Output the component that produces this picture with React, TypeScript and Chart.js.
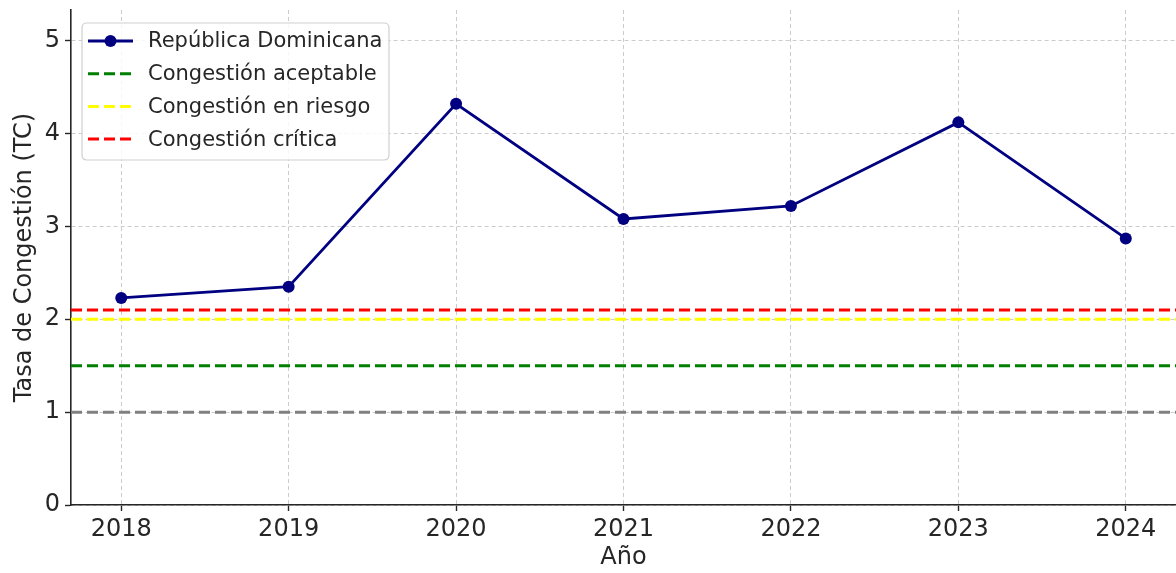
import React, { useEffect, useRef } from "react";
import { Chart, registerables } from "chart.js";

Chart.register(...registerables);

const years = ["2018", "2019", "2020", "2021", "2022", "2023", "2024"];
const tcValues = [2.23, 2.35, 4.32, 3.08, 3.22, 4.12, 2.87];
const seriesLabel = "República Dominicana";
const thresholdLabels = ["Congestión aceptable", "Congestión en riesgo", "Congestión crítica"];
const thresholdValues = [1.5, 2.0, 2.1];
const thresholdColors = ["#008000", "#ffff00", "#ff0000"];
const baselineValue = 1.0;
const baselineColor = "#808080";
const yMin = 0;
const yMax = 5.33;
const xPad = 0.3;

const FONT = "'DejaVu Sans', sans-serif";
const TEXT = "#262626";

const legendPlugin = {
  id: "boxLegend",
  afterDraw(chart: any) {
    const ctx = chart.ctx;
    const ca = chart.chartArea;
    const x0 = ca.left + 11;
    const y0 = ca.top + 13;
    const w = 307;
    const h = 137;
    ctx.save();
    ctx.beginPath();
    const r = 5;
    ctx.moveTo(x0 + r, y0);
    ctx.lineTo(x0 + w - r, y0);
    ctx.quadraticCurveTo(x0 + w, y0, x0 + w, y0 + r);
    ctx.lineTo(x0 + w, y0 + h - r);
    ctx.quadraticCurveTo(x0 + w, y0 + h, x0 + w - r, y0 + h);
    ctx.lineTo(x0 + r, y0 + h);
    ctx.quadraticCurveTo(x0, y0 + h, x0, y0 + h - r);
    ctx.lineTo(x0, y0 + r);
    ctx.quadraticCurveTo(x0, y0, x0 + r, y0);
    ctx.closePath();
    ctx.fillStyle = "rgba(255,255,255,0.85)";
    ctx.fill();
    ctx.strokeStyle = "#d0d0d0";
    ctx.lineWidth = 1.2;
    ctx.stroke();

    const items = chart.data.datasets.filter((d: any) => d.label);
    items.forEach((d: any, i: number) => {
      const cy = y0 + 18 + i * 32.7;
      const lx0 = x0 + 6;
      const lx1 = x0 + 51;
      ctx.strokeStyle = d.borderColor;
      ctx.lineWidth = d.borderWidth;
      ctx.setLineDash(d.borderDash || []);
      ctx.beginPath();
      ctx.moveTo(lx0, cy);
      ctx.lineTo(lx1, cy);
      ctx.stroke();
      ctx.setLineDash([]);
      if (d.pointRadius > 0) {
        ctx.fillStyle = d.pointBackgroundColor;
        ctx.beginPath();
        ctx.arc((lx0 + lx1) / 2, cy, d.pointRadius, 0, Math.PI * 2);
        ctx.fill();
      }
      ctx.fillStyle = TEXT;
      ctx.font = `21px ${FONT}`;
      ctx.textBaseline = "middle";
      ctx.textAlign = "left";
      ctx.fillText(d.label, x0 + 66, cy + 1);
    });
    ctx.restore();
  },
};

export default function App() {
  const ref = useRef<HTMLCanvasElement | null>(null);
  useEffect(() => {
    document.body.style.margin = "0";
    const xEnd = years.length - 1 + xPad;
    const datasets: any[] = [
      {
        label: seriesLabel,
        data: tcValues.map((v, i) => ({ x: i, y: v })),
        borderColor: "#000080",
        backgroundColor: "#000080",
        pointBackgroundColor: "#000080",
        pointBorderColor: "#000080",
        borderWidth: 2.8,
        pointRadius: 6,
        pointBorderWidth: 0,
        tension: 0,
        order: 5,
      },
      ...thresholdValues.map((v, i) => ({
        label: thresholdLabels[i],
        data: [
          { x: -xPad, y: v },
          { x: xEnd, y: v },
        ],
        borderColor: thresholdColors[i],
        backgroundColor: thresholdColors[i],
        borderWidth: 3,
        borderDash: [11, 5],
        pointRadius: 0,
        order: 1,
      })),
      {
        label: "",
        data: [
          { x: -xPad, y: baselineValue },
          { x: xEnd, y: baselineValue },
        ],
        borderColor: baselineColor,
        borderWidth: 3,
        borderDash: [11, 5],
        pointRadius: 0,
        order: 1,
      },
    ];
    const gridOpts = {
      color: "rgba(195,195,195,0.85)",
      lineWidth: 1,
      tickLength: 6,
      tickColor: "#262626",
      tickWidth: 1.4,
      tickBorderDash: [],
    };
    const chart = new Chart(ref.current!, {
      type: "line",
      data: { datasets },
      options: {
        animation: false,
        responsive: false,
        layout: { autoPadding: false, padding: { top: 10, right: 0, left: 0, bottom: 0 } },
        plugins: { legend: { display: false }, tooltip: { enabled: false } },
        scales: {
          x: {
            type: "linear",
            min: -xPad,
            max: xEnd,
            afterFit(s: any) {
              s.height = 68;
              s.paddingLeft = 0;
              s.paddingRight = 0;
            },
            border: { display: true, color: "#262626", width: 1.6, dash: [4, 3] },
            grid: gridOpts,
            ticks: {
              stepSize: 1,
              includeBounds: false,
              maxRotation: 0,
              autoSkip: false,
              padding: 4,
              color: TEXT,
              font: { family: FONT, size: 24 },
              callback: (v: any) => years[v] ?? "",
            },
            title: {
              display: true,
              text: "Año",
              color: TEXT,
              font: { family: FONT, size: 24 },
              padding: { top: 0, bottom: 1 },
            },
          },
          y: {
            type: "linear",
            min: yMin,
            max: yMax,
            afterFit(s: any) {
              s.width = 71;
              s.paddingTop = 0;
              s.paddingBottom = 0;
            },
            border: { display: true, color: "#262626", width: 1.6, dash: [4, 3] },
            grid: gridOpts,
            ticks: {
              stepSize: 1,
              includeBounds: false,
              padding: 5,
              color: TEXT,
              font: { family: FONT, size: 24 },
            },
            title: {
              display: true,
              text: "Tasa de Congestión (TC)",
              color: TEXT,
              font: { family: FONT, size: 24 },
              padding: { top: 10, bottom: 0 },
            },
          },
        },
      } as any,
      plugins: [legendPlugin],
    });
    return () => chart.destroy();
  }, []);
  return <canvas ref={ref} width={1176} height={573} style={{ display: "block" }} />;
}
